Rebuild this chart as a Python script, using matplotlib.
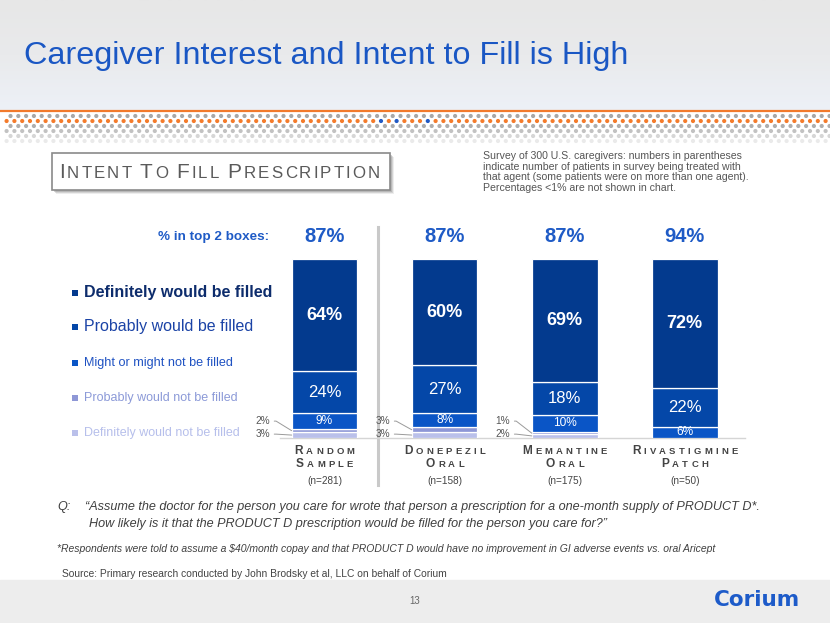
import numpy as np
import matplotlib
matplotlib.use('Agg')
import matplotlib.pyplot as plt
from matplotlib.patches import Rectangle
from matplotlib.colors import LinearSegmentedColormap
from matplotlib.offsetbox import HPacker, TextArea, DrawingArea, AnnotationBbox

plt.rcParams['font.family'] = ['Liberation Sans', 'DejaVu Sans']

# data
categories = ['Random Sample', 'Donepezil Oral', 'Memantine Oral', 'Rivastigmine Patch']
n_labels = ['(n=281)', '(n=158)', '(n=175)', '(n=50)']
top2 = [87, 87, 87, 94]
definitely = [64, 60, 69, 72]
probably = [24, 27, 18, 22]
might = [9, 8, 10, 6]
prob_not = [2, 3, 1, 0]
def_not = [3, 3, 2, 0]

series_names = ['Definitely would be filled', 'Probably would be filled',
                'Might or might not be filled', 'Probably would not be filled',
                'Definitely would not be filled']
bar_colors = ['#033A8E', '#0447A8', '#0A55C6', '#8E97D6', '#BAC0EA']
legend_text_colors = ['#0D2C6C', '#1B43A6', '#1F52C2', '#8C9AD8', '#B6BFEB']

W, H = 830, 623
fig = plt.figure(figsize=(8.3, 6.23), dpi=100)
fig.patch.set_facecolor('white')

# full-figure axes in pixel coordinates for the slide decoration
bg = fig.add_axes([0, 0, 1, 1])
bg.axis('off')

grad = np.linspace(0, 1, 100).reshape(-1, 1)
hdr_cmap = LinearSegmentedColormap.from_list('hdr', ['#E7E7E7', '#E9EAEC', '#EDF1F7'])
bg.imshow(grad, extent=[0, W, 111, 0], aspect='auto', cmap=hdr_cmap, zorder=0)
bg.plot([0, W], [111, 111], color='#F27A2C', lw=1.6, zorder=2)

# dotted band under the header
row_y = [116, 121, 126, 131, 136, 141]
row_c = ['#A8A8A8', '#F47B2B', '#AEAEAE', '#C2C2C2', '#D6D6D6', '#EAEAEA']
for r, (yy, cc) in enumerate(zip(row_y, row_c)):
    xs = 6.6 + np.arange(0, 107) * 7.8 + (3.9 if r % 2 == 0 else 0)
    cols = [cc] * len(xs)
    if r == 1:
        for k in (48, 50, 54):
            cols[k] = '#2159C4'
    bg.scatter(xs, [yy] * len(xs), s=9, c=cols, lw=0, zorder=2)

bg.add_patch(Rectangle((0, 580), W, 43, color='#EDEDED', zorder=0))

bg.text(24, 56, 'Caregiver Interest and Intent to Fill is High', size=23.3,
        color='#1A57C4', va='center')


def caps_box(text, big, small, track, color, weight='normal', gap=3):
    kids = []
    for w, word in enumerate(text.split()):
        if w:
            kids.append(DrawingArea(gap, 1))
        for j, ch in enumerate(word):
            kids.append(TextArea(ch, textprops=dict(size=big if j == 0 else small,
                                                    color=color, fontweight=weight)))
    return HPacker(children=kids, align='baseline', pad=0, sep=track)


# boxed section title with a soft shadow
for d, a in [(4, 0.15), (3, 0.25), (2, 0.35)]:
    bg.add_patch(Rectangle((52 + d, 153 + d), 338, 37, color='#888888', alpha=a, lw=0, zorder=3))
bg.add_patch(Rectangle((52, 153), 338, 37, facecolor='white', edgecolor='#8A8A8A', lw=1.2, zorder=4))
bg.add_artist(AnnotationBbox(caps_box('Intent to Fill Prescription'.upper(), 15, 12.2, 1.55, '#5A5A5A'),
                             (59, 172), xycoords='data', box_alignment=(0, 0.5),
                             frameon=False, pad=0, zorder=5))

bg.text(483, 151, 'Survey of 300 U.S. caregivers: numbers in parentheses\n'
        'indicate number of patients in survey being treated with\n'
        'that agent (some patients were on more than one agent).\n'
        'Percentages <1% are not shown in chart.',
        size=7.55, color='#555555', va='top', linespacing=1.08)

bg.text(269, 237, '% in top 2 boxes:', size=9.7, fontweight='bold', color='#1F5BC6',
        ha='right', va='center')

# legend drawn by hand (each entry has its own size)
leg_y = [293, 327, 363, 398, 433]
leg_size = [11.5, 11.5, 9.1, 9.0, 9.0]
leg_weight = ['bold', 'normal', 'normal', 'normal', 'normal']
for name, yy, sz, wt, bc, tc in zip(series_names, leg_y, leg_size, leg_weight, bar_colors, legend_text_colors):
    bg.scatter([75], [yy], marker='s', s=24 if sz > 10 else 20, color=bc, lw=0)
    bg.text(84, yy, name, size=sz, fontweight=wt, color=tc, va='center')

bg.plot([378, 378], [227, 485], color='#C9C9C9', lw=2.2)
bg.plot([280, 745], [438, 438], color='#D5D5D5', lw=1)

qsize = 9.1
bg.text(57, 507, 'Q:', size=qsize, style='italic', color='#404040', va='center')
bg.text(85, 507, '\u201cAssume the doctor for the person you care for wrote that person a '
        'prescription for a one-month supply of PRODUCT D*.', size=qsize, style='italic',
        color='#404040', va='center')
bg.text(89, 524, 'How likely is it that the PRODUCT D prescription would be filled for the '
        'person you care for?\u201d', size=qsize, style='italic', color='#404040', va='center')
bg.text(57, 549, '*Respondents were told to assume a $40/month copay and that PRODUCT D would '
        'have no improvement in GI adverse events vs. oral Aricept', size=7.45, style='italic',
        color='#404040', va='center')
bg.text(62, 574, 'Source: Primary research conducted by John Brodsky et al, LLC on behalf of Corium',
        size=7.4, color='#444444', va='center')
bg.text(415, 601, '13', size=7, color='#666666', ha='center', va='center')
bg.text(757, 600, 'Corium', family='DejaVu Sans', size=15.5, fontweight='bold',
        color='#1D5BC9', ha='center', va='center')

bg.set_xlim(0, W)
bg.set_ylim(H, 0)

# stacked bar chart
ax = fig.add_axes([264.5 / W, 1 - 437.7 / H, 480.3 / W, 178.4 / H])
ax.patch.set_alpha(0)
ax.axis('off')
ax.set_xlim(-0.5, 3.5)
ax.set_ylim(0, 100)

x = np.arange(len(categories))
stack = np.array([def_not, prob_not, might, probably, definitely], dtype=float)
shares = stack / stack.sum(axis=0) * 100
bottoms = np.vstack([np.zeros(len(x)), np.cumsum(shares, axis=0)[:-1]])
bw = 0.547
colors_bottom_up = bar_colors[::-1]
for k in range(5):
    ax.bar(x, shares[k], bw, bottom=bottoms[k], color=colors_bottom_up[k],
           edgecolor='white', linewidth=0.9)

# labels inside the bars (top three series)
label_style = {4: dict(size=13, fontweight='bold'), 3: dict(size=12), 2: dict(size=8.6)}
for k, st in label_style.items():
    for i in x:
        v = stack[k, i]
        if v > 0:
            ax.text(i, bottoms[k, i] + shares[k, i] / 2, f'{v:.0f}%', ha='center',
                    va='center', color='white', **st)

# small segments labelled outside with leader lines
for k, ly in [(0, 2.0), (1, 9.3)]:
    for i in x:
        v = stack[k, i]
        if v > 0:
            ax.annotate(f'{v:.0f}%', xy=(i - bw / 2, bottoms[k, i] + shares[k, i] / 2),
                        xytext=(i - bw / 2 - 0.18, ly), ha='right', va='center',
                        size=7.2, color='#555555', annotation_clip=False,
                        arrowprops=dict(arrowstyle='-', color='#9A9A9A', lw=0.7,
                                        shrinkA=1, shrinkB=0, relpos=(1, 0.5),
                                        connectionstyle='arc,angleA=0,angleB=180,armA=6,armB=0,rad=0'))

for i in x:
    ax.text(i, 112.5, f'{top2[i]}%', ha='center', va='center', size=14.5,
            fontweight='bold', color='#1F5BC6', clip_on=False)
    words = categories[i].upper().split()
    for j, word in enumerate(words):
        ax.add_artist(AnnotationBbox(caps_box(word, 8.6, 6.8, 2.3, '#444444', 'bold'),
                                     (i, -7.5 - 7.4 * j), xycoords='data',
                                     box_alignment=(0.5, 0.5), frameon=False, pad=0,
                                     annotation_clip=False))
    ax.text(i, -24.3, n_labels[i], ha='center', va='center', size=7.2, color='#444444',
            clip_on=False)

fig.savefig('out.png', dpi=100)
